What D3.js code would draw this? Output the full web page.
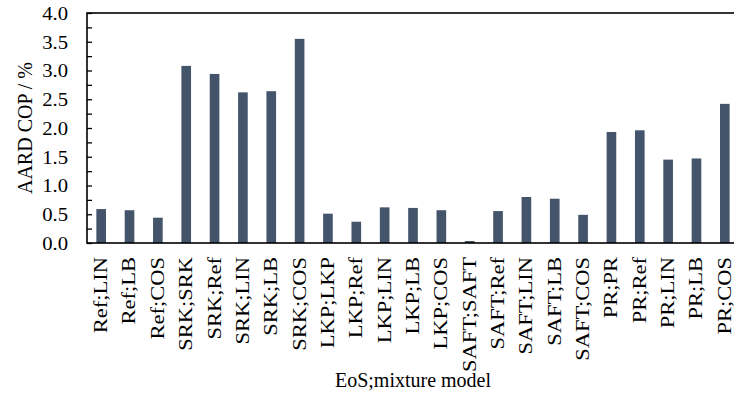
<!DOCTYPE html>
<html>
<head>
<meta charset="utf-8">
<script src="https://cdn.jsdelivr.net/npm/d3@7"></script>
<style>
  html, body { margin: 0; padding: 0; background: #fff; }
  svg { display: block; }
  text { font-family: "Liberation Serif", "Times New Roman", serif; fill: #000; }
</style>
</head>
<body>
<svg id="chart" width="734" height="396"></svg>
<script>
// EoS;mixture model combinations
const categories = [
  "Ref;LIN", "Ref;LB", "Ref;COS",
  "SRK;SRK", "SRK;Ref", "SRK;LIN", "SRK;LB", "SRK;COS",
  "LKP;LKP", "LKP;Ref", "LKP;LIN", "LKP;LB", "LKP;COS",
  "SAFT;SAFT", "SAFT;Ref", "SAFT;LIN", "SAFT;LB", "SAFT;COS",
  "PR;PR", "PR;Ref", "PR;LIN", "PR;LB", "PR;COS"
];
// AARD of COP in %
const aardCop = [
  0.59, 0.57, 0.44,
  3.08, 2.94, 2.62, 2.64, 3.55,
  0.51, 0.37, 0.62, 0.61, 0.57,
  0.035, 0.555, 0.80, 0.77, 0.49,
  1.93, 1.96, 1.45, 1.47, 2.42
];
const yTicks = [0, 0.25, 0.5, 0.75, 1, 1.25, 1.5, 1.75, 2, 2.25, 2.5, 2.75, 3, 3.25, 3.5, 3.75, 4];
const yDomain = [0, 4];
const xTitle = "EoS;mixture model";
const yTitle = "AARD COP / %";

const svg = d3.select("#chart");
const m = { left: 87, right: 739, top: 13, bottom: 243 };
const catStretch = 1.25;    // wide-set category lettering
const tickStretch = 1.15;   // wide-set tick numerals

const x = d3.scaleBand()
  .domain(categories)
  .range([m.left, m.right])
  .paddingInner(0.66)
  .paddingOuter(0.33);

const y = d3.scaleLinear().domain(yDomain).range([m.bottom, m.top]);

// bars
svg.append("g")
  .selectAll("rect")
  .data(categories.map((c, i) => ({ c, v: aardCop[i] })))
  .join("rect")
  .attr("x", d => x(d.c))
  .attr("y", d => y(d.v))
  .attr("width", x.bandwidth())
  .attr("height", d => y(0) - y(d.v))
  .attr("fill", "#44546A");

// y axis: inward ticks every 0.25, labels at every 0.5
const yAxis = d3.axisLeft(y)
  .tickValues(yTicks)
  .tickSizeInner(-5)
  .tickSizeOuter(0)
  .tickPadding(0)
  .tickFormat(d => (Math.round(d * 100) % 50 === 0) ? d3.format(".1f")(d) : "");

const gy = svg.append("g")
  .attr("transform", `translate(${m.left},0)`)
  .call(yAxis);
gy.select(".domain").remove();
gy.selectAll(".tick line").attr("stroke", "#000").attr("stroke-width", 1.3);
gy.selectAll(".tick text")
  .style("font-size", "18px")
  .attr("x", 0)
  .attr("dy", "0.36em")
  .attr("transform", `translate(-19,0) scale(${tickStretch},1)`);

// x axis: category labels rotated vertically
const xAxis = d3.axisBottom(x).tickSize(0).tickPadding(0);
const gx = svg.append("g")
  .attr("transform", `translate(0,${m.bottom})`)
  .call(xAxis);
gx.select(".domain").remove();
gx.selectAll(".tick text")
  .style("font-size", "18px")
  .attr("text-anchor", "end")
  .attr("transform", `rotate(-90) translate(-14,0) scale(${catStretch},1)`)
  .attr("x", 0)
  .attr("y", 0)
  .attr("dy", "0.33em");

// plot frame
svg.append("rect")
  .attr("x", m.left)
  .attr("y", m.top)
  .attr("width", m.right - m.left)
  .attr("height", m.bottom - m.top)
  .attr("fill", "none")
  .attr("stroke", "#000")
  .attr("stroke-width", 1.6);

// axis titles
svg.append("text")
  .attr("x", (m.left + m.right) / 2)
  .attr("y", 387)
  .attr("text-anchor", "middle")
  .style("font-size", "20px")
  .text(xTitle);

svg.append("text")
  .attr("transform", `translate(32,${(m.top + m.bottom) / 2}) rotate(-90)`)
  .attr("text-anchor", "middle")
  .style("font-size", "20px")
  .text(yTitle);
</script>
</body>
</html>
